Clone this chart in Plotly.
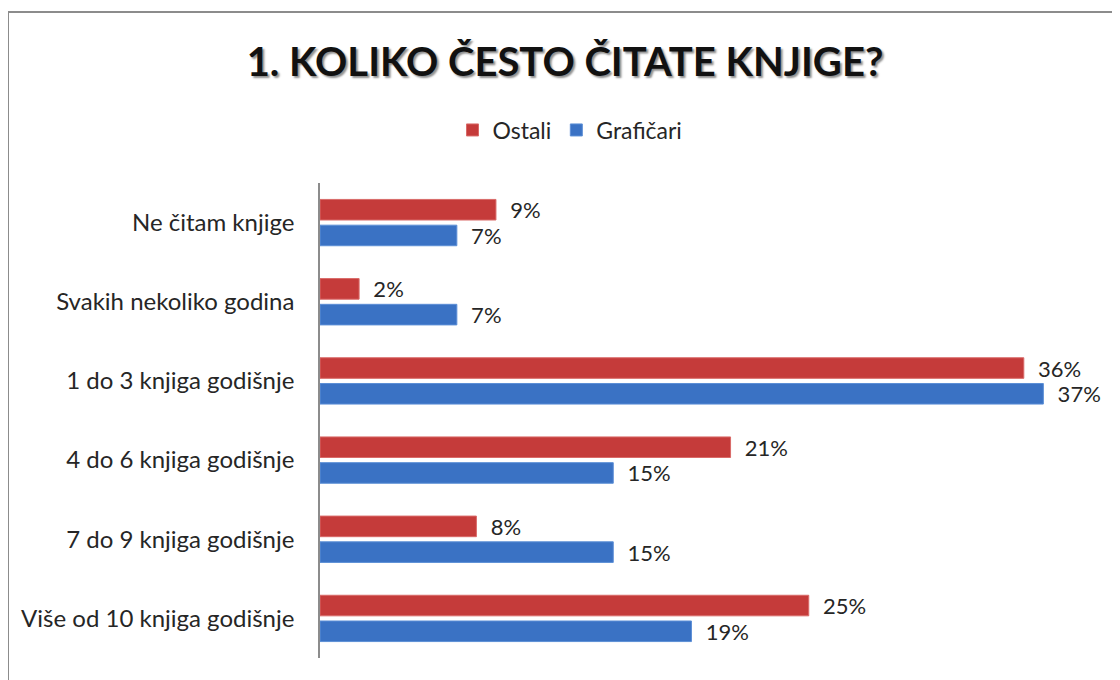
import plotly.graph_objects as go

categories = ['Ne čitam knjige', 'Svakih nekoliko godina', '1 do 3 knjiga godišnje',
              '4 do 6 knjiga godišnje', '7 do 9 knjiga godišnje', 'Više od 10 knjiga godišnje']
ostali = [9, 2, 36, 21, 8, 25]
graficari = [7, 7, 37, 15, 15, 19]

# the page body adds an 8px offset, so the figure is drawn 8px smaller
OFF = 8
W, H = 1120 - OFF, 680 - OFF
L, R, T, B = 312, 18, 175, 22
pw, ph = W - L - R, H - T - B


def px_x(x):
    return (x - OFF - L) / pw


def px_y(y):
    return (H - B - (y - OFF)) / ph


fig = go.Figure()
fig.add_trace(go.Bar(
    y=categories, x=ostali, orientation='h', name='Ostali',
    marker=dict(color='#C53B3A', line=dict(color='#D96A68', width=1)),
    texttemplate='\u00a0\u00a0%{x}%', textposition='outside',
    textfont=dict(size=22, color='#262626'), cliponaxis=False, constraintext='none',
))
fig.add_trace(go.Bar(
    y=categories, x=graficari, orientation='h', name='Grafičari',
    marker=dict(color='#3A72C4', line=dict(color='#5C8FD6', width=1)),
    texttemplate='\u00a0\u00a0%{x}%', textposition='outside',
    textfont=dict(size=22, color='#262626'), cliponaxis=False, constraintext='none',
))

fig.update_layout(
    width=W, height=H,
    margin=dict(l=L, r=R, t=T, b=B, autoexpand=False),
    paper_bgcolor='white', plot_bgcolor='white',
    font=dict(family='Lato', size=20, color='#262626'),
    barmode='group', bargap=0.35, bargroupgap=0.2,
    title=dict(text='<b>1. KOLIKO ČESTO ČITATE KNJIGE?</b>',
               x=(565 - OFF) / W, xref='container', xanchor='center',
               y=1 - (62 - OFF) / H, yref='container', yanchor='middle',
               font=dict(family='Lato', size=40, color='#111111',
                         shadow='2px 2px 2px #909090')),
    legend=dict(orientation='h', x=(570 - OFF) / W, xref='container', xanchor='center',
                y=1 - (130 - OFF) / H, yref='container', yanchor='middle',
                font=dict(size=23), traceorder='normal'),
    showlegend=True,
    xaxis=dict(range=[0, 40], visible=False),
    yaxis=dict(categoryorder='array', categoryarray=categories, autorange='reversed',
               showline=True, linecolor='#8C8C8C', linewidth=1.5, ticks='',
               ticklabelstandoff=19, showgrid=False, zeroline=False,
               tickfont=dict(size=24, color='#262626')),
    shapes=[
        dict(type='line', xref='paper', yref='paper',
             x0=px_x(8), x1=px_x(1120), y0=px_y(12), y1=px_y(12),
             line=dict(color='#8C8C8C', width=2)),
        dict(type='line', xref='paper', yref='paper',
             x0=px_x(8), x1=px_x(8), y0=px_y(12), y1=px_y(680),
             line=dict(color='#8C8C8C', width=2)),
    ],
)

fig.write_html('out.html')
